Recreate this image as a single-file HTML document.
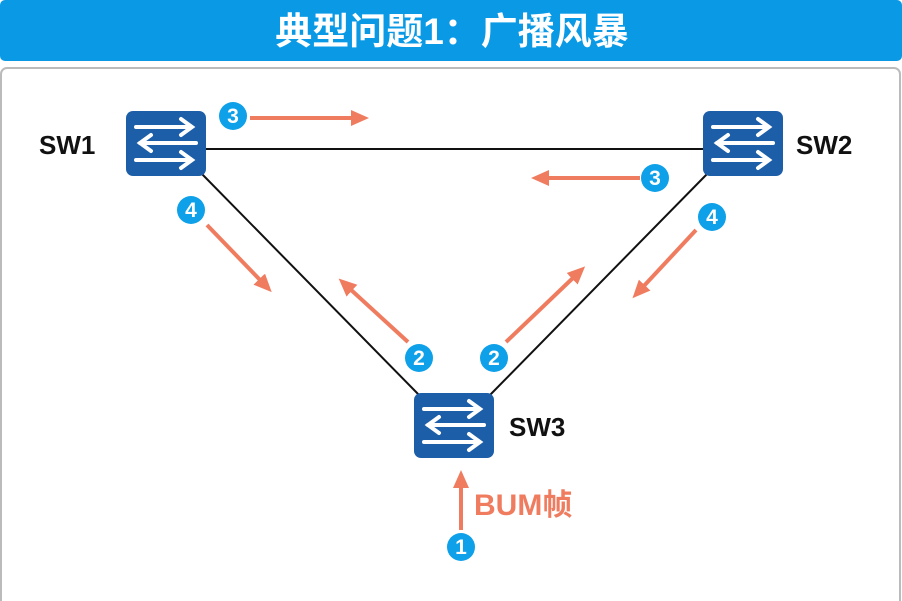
<!DOCTYPE html>
<html><head><meta charset="utf-8"><style>
html,body{margin:0;padding:0;width:902px;height:601px;overflow:hidden;background:#fff}
</style></head><body>
<svg width="902" height="601" xmlns="http://www.w3.org/2000/svg" style="display:block">
<defs>
<marker id="ah" markerWidth="18" markerHeight="16" refX="4" refY="8" orient="auto" markerUnits="userSpaceOnUse"><path d="M0,0 L18,8 L0,16 z" fill="#f07c60"/></marker>
<g id="sw">
<rect x="0" y="0" width="80" height="65" rx="7" fill="#1d5ea8"/>
<g stroke="#fff" stroke-width="4" fill="none" stroke-linecap="round">
<line x1="10" y1="16" x2="65" y2="16"/><polyline points="55,8 66,16 55,24"/>
<line x1="14" y1="32" x2="70" y2="32"/><polyline points="25,24 14,32 25,40"/>
<line x1="10" y1="49" x2="65" y2="49"/><polyline points="55,41 66,49 55,57"/>
</g></g>
</defs>
<rect x="0" y="0" width="902" height="61" rx="5" fill="#0a9ae5"/>
<text x="452" y="44" text-anchor="middle" font-family="Liberation Sans,Noto Sans CJK SC,sans-serif" font-weight="bold" font-size="37" fill="#fff">典型问题1：广播风暴</text>
<rect x="1" y="68" width="899" height="540" rx="6" fill="#fff" stroke="#bbb" stroke-width="2"/>
<g stroke="#111" stroke-width="2">
<line x1="206" y1="149" x2="703" y2="149"/>
<line x1="200" y1="172" x2="420" y2="396"/>
<line x1="709" y1="172" x2="489" y2="396"/>
</g>
<use href="#sw" x="126" y="111"/>
<use href="#sw" x="703" y="111"/>
<use href="#sw" x="414" y="393"/>
<g font-family="Liberation Sans,sans-serif" font-weight="bold" font-size="26" fill="#111">
<text x="39" y="154">SW1</text><text x="796" y="154">SW2</text><text x="509" y="436">SW3</text>
</g>
<g stroke="#f07c60" stroke-width="4" marker-end="url(#ah)">
<line x1="250" y1="118" x2="355" y2="118"/>
<line x1="640" y1="178" x2="545" y2="178"/>
<line x1="207" y1="225" x2="262" y2="282"/>
<line x1="696" y1="230" x2="642" y2="288"/>
<line x1="408" y1="342" x2="349" y2="288"/>
<line x1="506" y1="342" x2="575" y2="276"/>
<line x1="461" y1="530" x2="461" y2="484"/>
</g>
<text x="474" y="515" font-family="Liberation Sans,Noto Sans CJK SC,sans-serif" font-weight="bold" font-size="30" fill="#f07c60">BUM帧</text>
<g font-family="Liberation Sans,sans-serif" font-weight="bold" font-size="21" fill="#fff" text-anchor="middle">
<circle cx="233" cy="116" r="14" fill="#0ea0e8"/><text x="233" y="123">3</text>
<circle cx="655" cy="178" r="14" fill="#0ea0e8"/><text x="655" y="185">3</text>
<circle cx="191" cy="210" r="14" fill="#0ea0e8"/><text x="191" y="217">4</text>
<circle cx="712" cy="217" r="14" fill="#0ea0e8"/><text x="712" y="224">4</text>
<circle cx="419" cy="358" r="14" fill="#0ea0e8"/><text x="419" y="365">2</text>
<circle cx="494" cy="358" r="14" fill="#0ea0e8"/><text x="494" y="365">2</text>
<circle cx="461" cy="547" r="14" fill="#0ea0e8"/><text x="461" y="554">1</text>
</g>
</svg>
</body></html>
